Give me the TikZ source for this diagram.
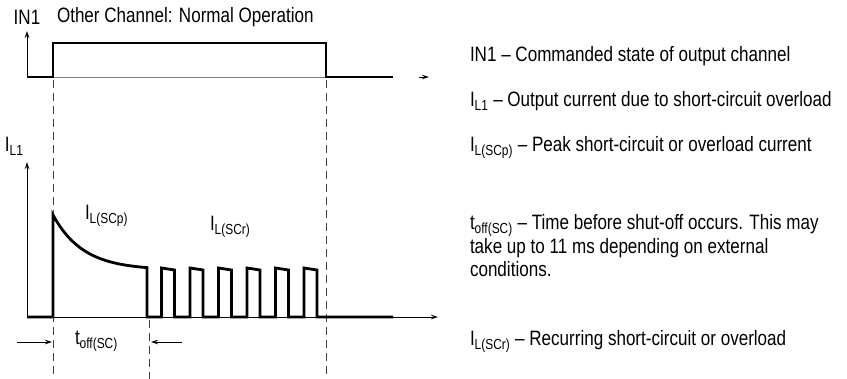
\documentclass[tikz,border=0pt]{standalone}
\usepackage{fontspec}
\setmainfont{Liberation Sans}[FakeStretch=0.82]
\usetikzlibrary{arrows.meta,positioning}
\tikzset{
	sig/.style={line width=2.8pt, line join=miter},
	ax/.style={line width=0.9pt, -{Stealth[length=7pt,width=4.5pt]}},
	guide/.style={line width=0.8pt, black!75, dash pattern=on 8pt off 5pt},
	txt/.style={font=\fontsize{20.8}{24}\selectfont, inner sep=0pt, outer sep=0pt},
	note/.style={txt, anchor=base west},
}
\newcommand{\sub}[1]{\textsubscript{#1}}
\begin{document}
\begin{tikzpicture}[x=1pt,y=-1pt]
	\useasboundingbox (0,0) rectangle (847,379);

	\coordinate (InO) at (27,77);
	\coordinate (InY) at (27,31);
	\coordinate (InXa) at (419,77);
	\coordinate (InXb) at (429,77);
	\coordinate (IlO) at (27,317);
	\coordinate (IlY) at (27,162);
	\coordinate (IlX) at (438,317);

	\draw[guide] (53,80) -- (53,379);
	\draw[guide] (326,80) -- (326,379);
	\draw[guide] (149,320) -- (149,379);

	\draw[ax] (InO) -- (InY);
	\draw[ax] (InXa) -- (InXb);
	\draw[black!50, line width=0.6pt] (53,77) -- (326,77);
	\draw[ax] (IlO) -- (IlY);
	\draw[ax] (IlO) -- (IlX);

	\draw[sig] (InO) -- (53,77) -- (53,43) -- (326,43) -- (326,77) -- (393,77);

	\draw[sig] (IlO) -- (53,317) -- (53,215)
		-- plot[domain=53:147, samples=40] (\x, {270-55*exp(-(\x-53)/30)})
		-- (147,317)
		\foreach \k in {0,...,5} {
			-- ({161.5+28.5*\k},317) -- ({161.5+28.5*\k},268)
			-- ({174.5+28.5*\k},270) -- ({174.5+28.5*\k},317)
		}
		-- (393,317);

	\node[txt, above=6pt of InY] (in1) {IN1};
	\node[note] (other) at (57,23) {Other Channel: Normal Operation};
	\node[note] (il1) at (5,152) {I\sub{L1}};
	\node[note] (ilscp) at (85,220) {I\sub{L(SCp)}};
	\node[note] (ilscr) at (210,231) {I\sub{L(SCr)}};
	\node[note] (toff) at (75,345) {t\sub{off(SC)}};

	\coordinate (ta) at (17,342);
	\coordinate (tb) at (52,342);
	\coordinate (tc) at (182,342);
	\coordinate (td) at (151,342);
	\draw[ax, line width=0.7pt] (ta) -- (tb);
	\draw[ax, line width=0.7pt] (tc) -- (td);

	\node[note] (d1) at (470,62) {IN1 – Commanded state of output channel};
	\node[note] (d2) at (470,107) {I\sub{L1} – Output current due to short-circuit overload};
	\node[note] (d3) at (470,152) {I\sub{L(SCp)} – Peak short-circuit or overload current};
	\node[note] (d4) at (470,230) {t\sub{off(SC)} – Time before shut-off occurs. This may};
	\node[note] (d5) at (470,254) {take up to 11 ms depending on external};
	\node[note] (d6) at (470,277) {conditions.};
	\node[note] (d7) at (470,346) {I\sub{L(SCr)} – Recurring short-circuit or overload};
\end{tikzpicture}
\end{document}
